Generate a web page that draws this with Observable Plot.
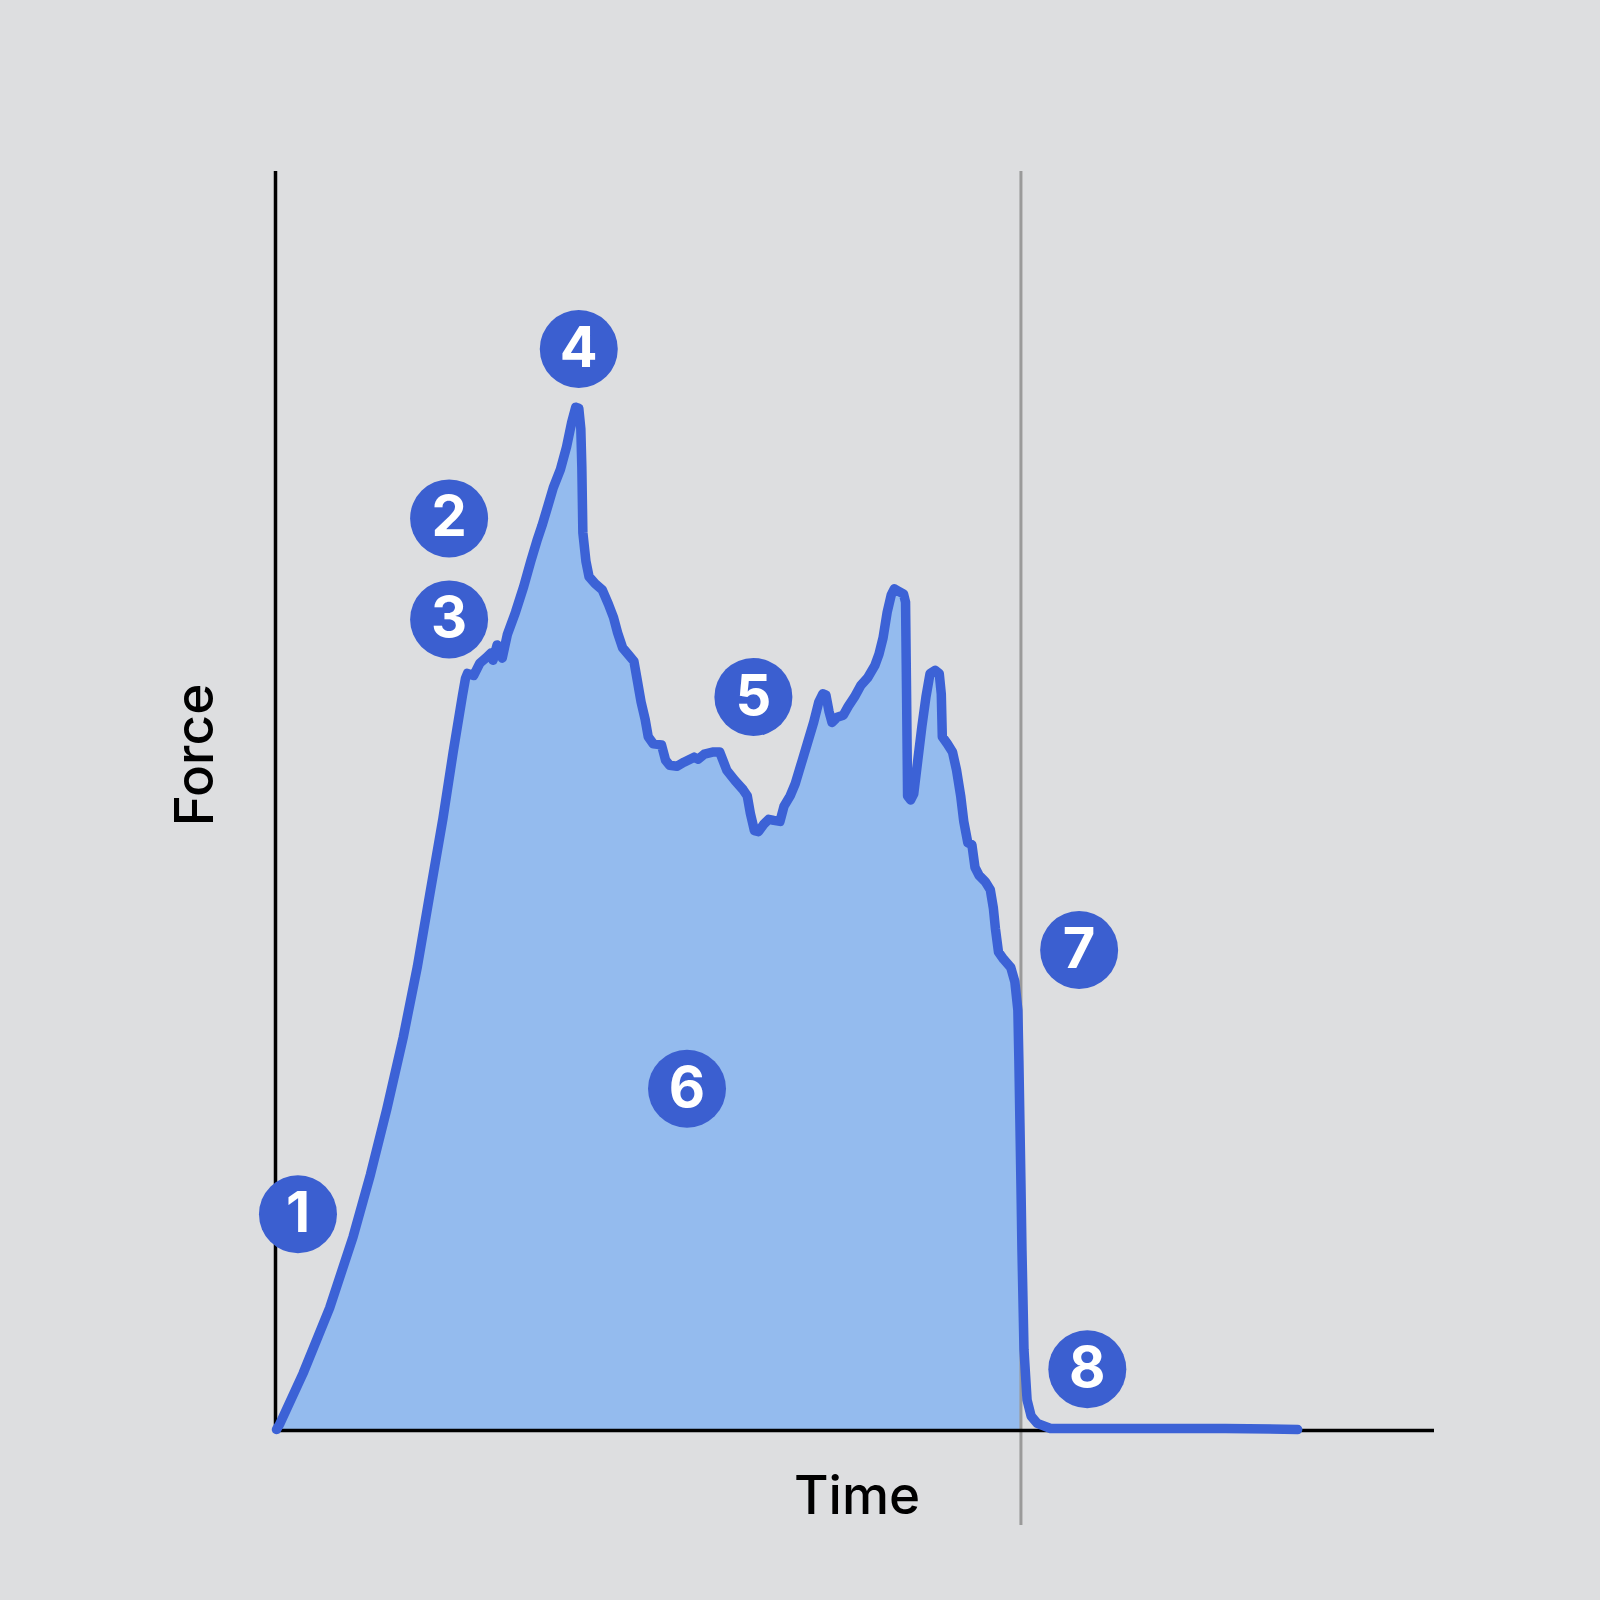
<!DOCTYPE html>
<html>
<head>
<meta charset="utf-8">
<script src="https://cdn.jsdelivr.net/npm/d3@7"></script>
<script src="https://cdn.jsdelivr.net/npm/@observablehq/plot@0.6"></script>
<style>
  html, body { margin: 0; padding: 0; background: #dddee0; }
  #chart svg { display: block; }
</style>
</head>
<body>
<div id="chart"></div>
<script>
// Force–time trace (arbitrary units)
const time = [1,4,27,53,76,93,109,125,139,151,164,174,183,186,188,194,200,207,211,213,217,222,227,235,243,250,256,261,267,272,279,285,290,294,297,299,300,301,304,307,313,320,326,331,335,340,346,351,354,358,362,365,370,378,382,386,393,400,406,410,414,420,428,435,442,450,458,462,465,469,473,478,483,488,494,498,504,509,515,521,527,532,536,539,542,545,550,556,561,567,573,580,587,591,595,599,603,606,611,615,617,618,619,622,625,629,633,637,641,646,650,652,653,658,663,667,671,674,678,682,685,689,695,700,703,705,708,713,720,724,727,728,729,730,731,733,736,740,746,759,830,930,1001];
const force = [1,6,56,120,190,251,315,385,455,525,600,665,720,737,742,740,752,758,762,755,770,757,780,802,827,852,872,887,907,924,942,964,988,1003,1002,982,944,880,852,837,830,824,810,797,782,767,760,754,737,714,697,680,673,672,657,652,651,655,658,660,658,663,665,665,647,637,628,622,605,588,587,594,599,598,597,612,622,634,654,674,694,714,722,721,705,694,699,701,710,719,730,738,750,761,777,802,819,825,822,820,812,722,622,618,624,657,690,719,742,745,742,722,680,673,665,647,622,597,576,574,552,544,538,530,512,492,469,462,454,440,412,362,302,242,177,79,30,14,7,2,2,2,1];
const markerLabel = ["1","2","3","4","5","6","7","8"];
const markerTime  = [22,170,170,297,468,403,787,795];
const markerForce = [212,894,795,1060,719,335,471,60];
const cutoffTime = 730;
const xLabel = "Time";
const yLabel = "Force";

const trace = time.map((t, i) => ({t, f: force[i]}));
const filled = trace.filter(d => d.t <= cutoffTime);
const markers = markerLabel.map((k, i) => ({k, t: markerTime[i], f: markerForce[i]}));

const blue = "#3c62d6";
const chart = Plot.plot({
  width: 1600,
  height: 1600,
  marginLeft: 275,
  marginRight: 166,
  marginTop: 171,
  marginBottom: 170,
  style: {background: "#dddee0", fontFamily: "Inter, Roboto, sans-serif", overflow: "visible"},
  x: {domain: [0, 1135], axis: null},
  y: {domain: [0, 1234], axis: null},
  marks: [
    Plot.areaY(filled, {x: "t", y: "f", fill: "#94bbee", curve: "linear"}),
    Plot.ruleX([cutoffTime], {y1: -93, y2: 1234, stroke: "#9a9a9a", strokeWidth: 3}),
    Plot.ruleX([0], {stroke: "#000", strokeWidth: 3.5}),
    Plot.ruleY([0], {stroke: "#000", strokeWidth: 3.5}),
    Plot.lineY(trace, {x: "t", y: "f", stroke: blue, strokeWidth: 9.5, strokeLinejoin: "round", strokeLinecap: "round"}),
    Plot.dot(markers, {x: "t", y: "f", r: 39, fill: "#3b5fd0", stroke: "none"}),
    Plot.text(markers, {x: "t", y: "f", text: "k", fill: "white", fontSize: 56, fontWeight: 700}),
    Plot.text([yLabel], {frameAnchor: "left", textAnchor: "middle", dx: -79, dy: -46, rotate: -90, fontSize: 53, fill: "#000", fontWeight: 500}),
    Plot.text([xLabel], {frameAnchor: "bottom", textAnchor: "middle", lineAnchor: "bottom", dx: 2, dy: 83, fontSize: 53, fill: "#000", fontWeight: 500})
  ]
});
document.getElementById("chart").appendChild(chart);
</script>
</body>
</html>
